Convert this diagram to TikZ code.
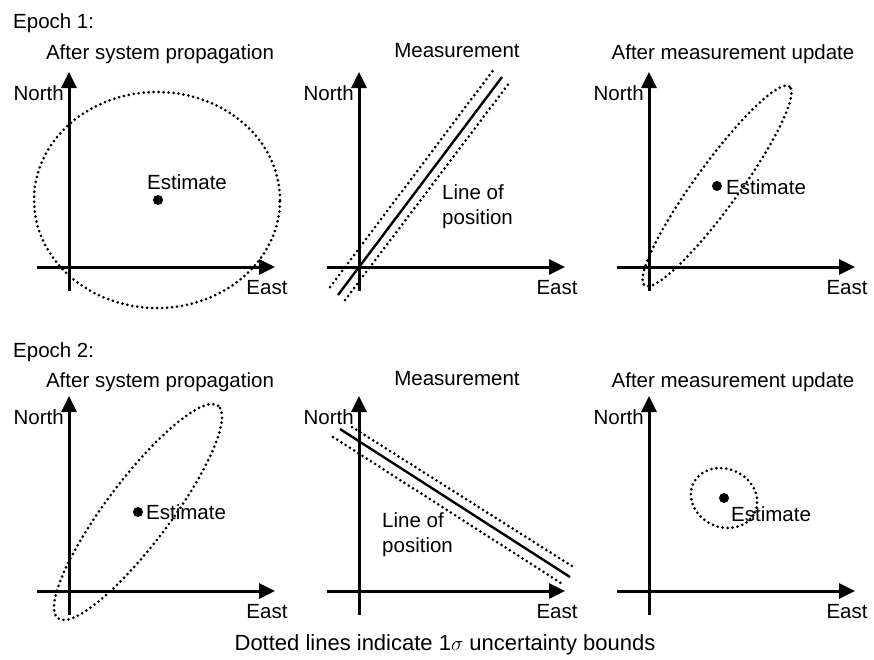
\documentclass[tikz,border=0pt]{standalone}
\usepackage{fontspec}
\setmainfont{Liberation Sans}
\usetikzlibrary{arrows.meta}
\tikzset{
  axis/.style={line width=3pt,-{Triangle[length=16pt,width=15pt]}},
  sigmaline/.style={line width=3pt,line cap=round,dash pattern=on 0pt off 5pt},
  lop/.style={line width=2.4pt},
  lbl/.style={inner sep=0pt},
}
\begin{document}
\begin{tikzpicture}[x=1pt,y=-1pt,font=\fontsize{20.5}{25}\selectfont]
\useasboundingbox (0,0) rectangle (874,659);
\foreach \ox in {69,359,649}
  \foreach \oy in {267,591} {
    \draw[axis] (\ox,\oy+24) -- (\ox,\oy-195);
    \draw[axis] (\ox-32,\oy) -- (\ox+206,\oy);
    \node[lbl,anchor=east] (north-\ox-\oy) at (\ox-5,\oy-174) {North};
    \node[lbl] (east-\ox-\oy) at (\ox+198,\oy+21) {East};
  }
\node[lbl,anchor=west] (epoch1) at (13,23) {Epoch 1:};
\node[lbl] (prop1) at (160,54) {After system propagation};
\node[lbl] (meas1) at (457,51) {Measurement};
\node[lbl] (upd1) at (733,54) {After measurement update};
\draw[sigmaline] (157,200) ellipse [x radius=123pt,y radius=108pt];
\fill (158,200) circle [radius=5pt];
\node[lbl] (est1) at (187,182) {Estimate};
\draw[lop] (338,295) -- (502,77);
\draw[sigmaline] (330,287) -- (494,69);
\draw[sigmaline] (345,300) -- (510,82);
\node[lbl,align=left,anchor=west] (lop1) at (442,207) {Line of\\position};
\draw[sigmaline,rotate around={54:(717,186)}] (717,186) ellipse [x radius=123pt,y radius=22pt];
\fill (717,186) circle [radius=5pt];
\node[lbl,anchor=west] (est3) at (726,187) {Estimate};
\node[lbl,anchor=west] (epoch2) at (13,352) {Epoch 2:};
\node[lbl] (prop2) at (160,382) {After system propagation};
\node[lbl] (meas2) at (457,379) {Measurement};
\node[lbl] (upd2) at (733,382) {After measurement update};
\draw[sigmaline,rotate around={53:(138,512)}] (138,512) ellipse [x radius=133pt,y radius=32pt];
\fill (138,512) circle [radius=5pt];
\node[lbl,anchor=west] (est4) at (146,512) {Estimate};
\draw[lop] (340,429) -- (570,577);
\draw[sigmaline] (352,427) -- (575,568);
\draw[sigmaline] (333,437) -- (564,585);
\node[lbl,align=left,anchor=west] (lop2) at (382,535) {Line of\\position};
\draw[sigmaline,rotate around={-25:(724,498)}] (724,498) ellipse [x radius=34pt,y radius=29pt];
\fill (724,498) circle [radius=5pt];
\node[lbl,anchor=west] (est6) at (731,514) {Estimate};
\node[lbl,font=\fontsize{22}{26}\selectfont] (note) at (445,645) {Dotted lines indicate 1$\sigma$ uncertainty bounds};
\end{tikzpicture}
\end{document}
